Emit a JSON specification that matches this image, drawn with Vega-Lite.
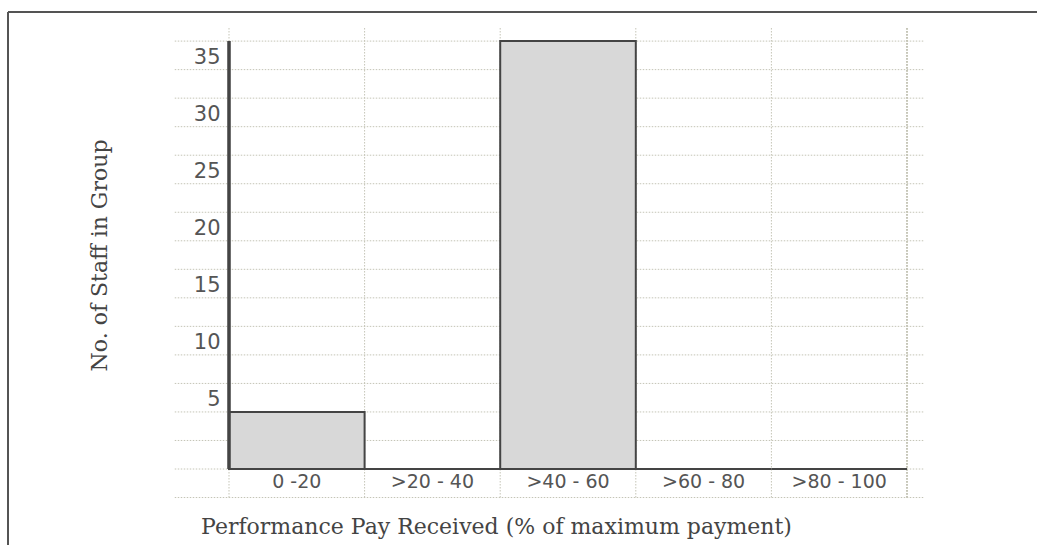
{
  "$schema": "https://vega.github.io/schema/vega-lite/v6.json",
  "width": 1029,
  "height": 533,
  "autosize": {"type": "none"},
  "padding": {"left": 8, "top": 12, "right": 0, "bottom": 0},
  "background": "white",
  "config": {"view": {"stroke": null}},
  "datasets": {
    "bars": [
      {"cat": "0 -20", "n": 5},
      {"cat": ">20 - 40", "n": 0},
      {"cat": ">40 - 60", "n": 37.5},
      {"cat": ">60 - 80", "n": 0},
      {"cat": ">80 - 100", "n": 0}
    ],
    "grid": [
      {"v": -2.5}, {"v": 0}, {"v": 2.5}, {"v": 5}, {"v": 7.5}, {"v": 10}, {"v": 12.5}, {"v": 15},
      {"v": 17.5}, {"v": 20}, {"v": 22.5}, {"v": 25}, {"v": 27.5}, {"v": 30}, {"v": 32.5}, {"v": 35}, {"v": 37.5}
    ]
  },
  "layer": [
    {
      "data": {"name": "grid"},
      "mark": {"type": "rule", "color": "#c4c4b6", "strokeWidth": 1, "strokeDash": [1.5, 1.5]},
      "encoding": {
        "y": {"field": "v", "type": "quantitative",
              "scale": {"domain": [-6.66, 40.05], "nice": false, "zero": false}},
        "x": {"datum": "0 -20", "bandPosition": -0.4, "type": "nominal",
              "scale": {"domain": ["0 -20", ">20 - 40", ">40 - 60", ">60 - 80", ">80 - 100"], "paddingInner": 0, "paddingOuter": 0, "range": [221, 899]}},
        "x2": {"datum": ">80 - 100", "bandPosition": 1.13}
      }
    },
    {
      "data": {"name": "bars"},
      "mark": {"type": "rule", "color": "#c4c4b6", "strokeWidth": 1, "strokeDash": [1.5, 1.5]},
      "encoding": {
        "x": {"field": "cat", "type": "nominal", "bandPosition": 0, "sort": null},
        "y": {"datum": -2.5, "type": "quantitative"},
        "y2": {"datum": 38.75}
      }
    },
    {
      "data": {"name": "bars"},
      "mark": {"type": "rule", "color": "#c4c4b6", "strokeWidth": 1, "strokeDash": [1.5, 1.5]},
      "encoding": {
        "x": {"datum": ">80 - 100", "type": "nominal", "bandPosition": 1},
        "y": {"datum": -2.5, "type": "quantitative"},
        "y2": {"datum": 38.75}
      }
    },
    {
      "data": {"name": "bars"},
      "mark": {"type": "bar", "fill": "#d8d8d8", "stroke": "#444", "strokeWidth": 2},
      "encoding": {
        "x": {"field": "cat", "type": "nominal", "sort": null,
              "axis": {"offset": -76, "bandPosition": 0.5, "grid": false, "domain": false, "ticks": false, "labelPadding": 12, "labelAngle": 0,
                       "labelAlign": "center", "labelFont": "DejaVu Sans", "labelFontSize": 19, "labelColor": "#555",
                       "title": "Performance Pay Received (% of maximum payment)", "titleFont": "DejaVu Serif",
                       "titleFontSize": 22, "titleFontWeight": "normal", "titleColor": "#444", "titlePadding": 25, "titleX": 488}},
        "y": {"field": "n", "type": "quantitative",
              "axis": {"values": [5, 10, 15, 20, 25, 30, 35], "offset": -221, "grid": false, "domain": false, "ticks": false,
                       "labelPadding": 9, "labelOffset": -12, "labelFont": "DejaVu Sans", "labelFontSize": 21, "labelColor": "#555",
                       "title": "No. of Staff in Group", "titleFont": "DejaVu Serif", "titleFontSize": 22, "titleFontWeight": "normal",
                       "titleColor": "#444", "titlePadding": 82, "titleY": 243}}
      }
    },
    {
      "data": {"name": "bars"},
      "mark": {"type": "rule", "color": "#444", "strokeWidth": 2.5},
      "encoding": {
        "x": {"datum": "0 -20", "type": "nominal", "bandPosition": 0},
        "y": {"datum": 0, "type": "quantitative"},
        "y2": {"datum": 37.5}
      }
    },
    {
      "data": {"name": "bars"},
      "mark": {"type": "rule", "color": "#555", "strokeWidth": 1.5},
      "encoding": {
        "y": {"datum": 40.05, "type": "quantitative"}
      }
    },
    {
      "data": {"name": "bars"},
      "mark": {"type": "rule", "color": "#555", "strokeWidth": 1.5},
      "encoding": {
        "x": {"datum": "0 -20", "type": "nominal", "bandPosition": -1.6298}
      }
    }
  ]
}
